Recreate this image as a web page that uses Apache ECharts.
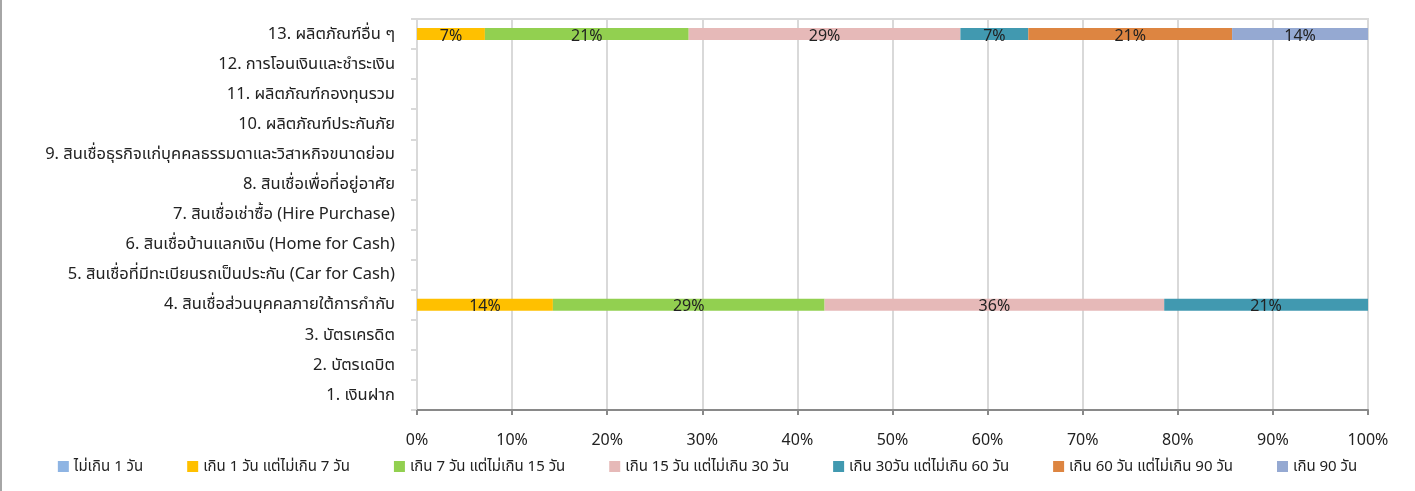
<!DOCTYPE html>
<html>
<head>
<meta charset="utf-8">
<script src="https://cdn.jsdelivr.net/npm/echarts@6/dist/echarts.min.js"></script>
<style>
html,body{margin:0;padding:0;background:#fff;}
#wrap{position:absolute;left:0;top:0;width:1415px;height:491px;box-sizing:border-box;border-left:2px solid #a6a6a6;}
#chart{position:absolute;left:-2px;top:0;width:1415px;height:491px;}
</style>
</head>
<body>
<div id="wrap"><div id="chart"></div></div>
<script>
const categories = [
  "1. เงินฝาก",
  "2. บัตรเดบิต",
  "3. บัตรเครดิต",
  "4. สินเชื่อส่วนบุคคลภายใต้การกำกับ",
  "5. สินเชื่อที่มีทะเบียนรถเป็นประกัน (Car for Cash)",
  "6. สินเชื่อบ้านแลกเงิน (Home for Cash)",
  "7. สินเชื่อเช่าซื้อ (Hire Purchase)",
  "8. สินเชื่อเพื่อที่อยู่อาศัย",
  "9. สินเชื่อธุรกิจแก่บุคคลธรรมดาและวิสาหกิจขนาดย่อม",
  "10. ผลิตภัณฑ์ประกันภัย",
  "11. ผลิตภัณฑ์กองทุนรวม",
  "12. การโอนเงินและชำระเงิน",
  "13. ผลิตภัณฑ์อื่น ๆ"
];
const seriesNames = [
  "ไม่เกิน 1 วัน",
  "เกิน 1 วัน แต่ไม่เกิน 7 วัน",
  "เกิน 7 วัน แต่ไม่เกิน 15 วัน",
  "เกิน 15 วัน แต่ไม่เกิน 30 วัน",
  "เกิน 30วัน แต่ไม่เกิน 60 วัน",
  "เกิน 60 วัน แต่ไม่เกิน 90 วัน",
  "เกิน 90 วัน"
];
const s1 = [null,null,null,null,null,null,null,null,null,null,null,null,null];
const s2 = [null,null,null,14.29,null,null,null,null,null,null,null,null,7.14];
const s3 = [null,null,null,28.57,null,null,null,null,null,null,null,null,21.43];
const s4 = [null,null,null,35.71,null,null,null,null,null,null,null,null,28.57];
const s5 = [null,null,null,21.43,null,null,null,null,null,null,null,null,7.14];
const s6 = [null,null,null,null,null,null,null,null,null,null,null,null,21.43];
const s7 = [null,null,null,null,null,null,null,null,null,null,null,null,14.29];
const xTicks = ["0%","10%","20%","30%","40%","50%","60%","70%","80%","90%","100%"];
const colors = ["#8eb4e3","#ffc000","#92d050","#e6b9b8","#4199b0","#dd8541","#95a9d2"];
const allData = [s1,s2,s3,s4,s5,s6,s7];

const FONT = "'Noto Sans', 'Noto Sans Thai', sans-serif";
const chart = echarts.init(document.getElementById('chart'));
chart.setOption({
  animation: false,
  textStyle: {fontFamily: FONT},
  color: colors,
  grid: {left: 417, right: 47, top: 19, bottom: 81, show: true, borderColor: '#d9d9d9', borderWidth: 2, containLabel: false},
  legend: {
    bottom: 12, left: 'center', itemWidth: 11, itemHeight: 11, itemGap: 44,
    icon: 'rect',
    textStyle: {fontSize: 15, color: '#222', fontFamily: FONT},
    data: seriesNames
  },
  xAxis: {
    type: 'value', min: 0, max: 100, interval: 10,
    axisLine: {show: true, lineStyle: {color: '#898989', width: 2}},
    axisTick: {show: true, length: 5, lineStyle: {color: '#898989', width: 2}},
    splitLine: {show: true, lineStyle: {color: '#d9d9d9', width: 2}},
    axisLabel: {fontSize: 16, color: '#222', margin: 22, formatter: v => xTicks[Math.round(v/10)]}
  },
  yAxis: {
    type: 'category', data: categories,
    axisLine: {show: true, lineStyle: {color: '#d9d9d9', width: 2}},
    axisTick: {show: true, length: 6, lineStyle: {color: '#d9d9d9', width: 2}},
    axisLabel: {fontSize: 16.5, color: '#222', margin: 22},
    splitLine: {show: false}
  },
  series: seriesNames.map((n, i) => ({
    name: n, type: 'bar', stack: 'total', barWidth: 12,
    data: allData[i],
    itemStyle: {color: colors[i]},
    label: {
      show: true, position: 'inside', fontSize: 16, color: '#222', offset: [0, 2],
      formatter: p => (p.value == null ? '' : Math.round(p.value) + '%')
    }
  }))
});
</script>
</body>
</html>
